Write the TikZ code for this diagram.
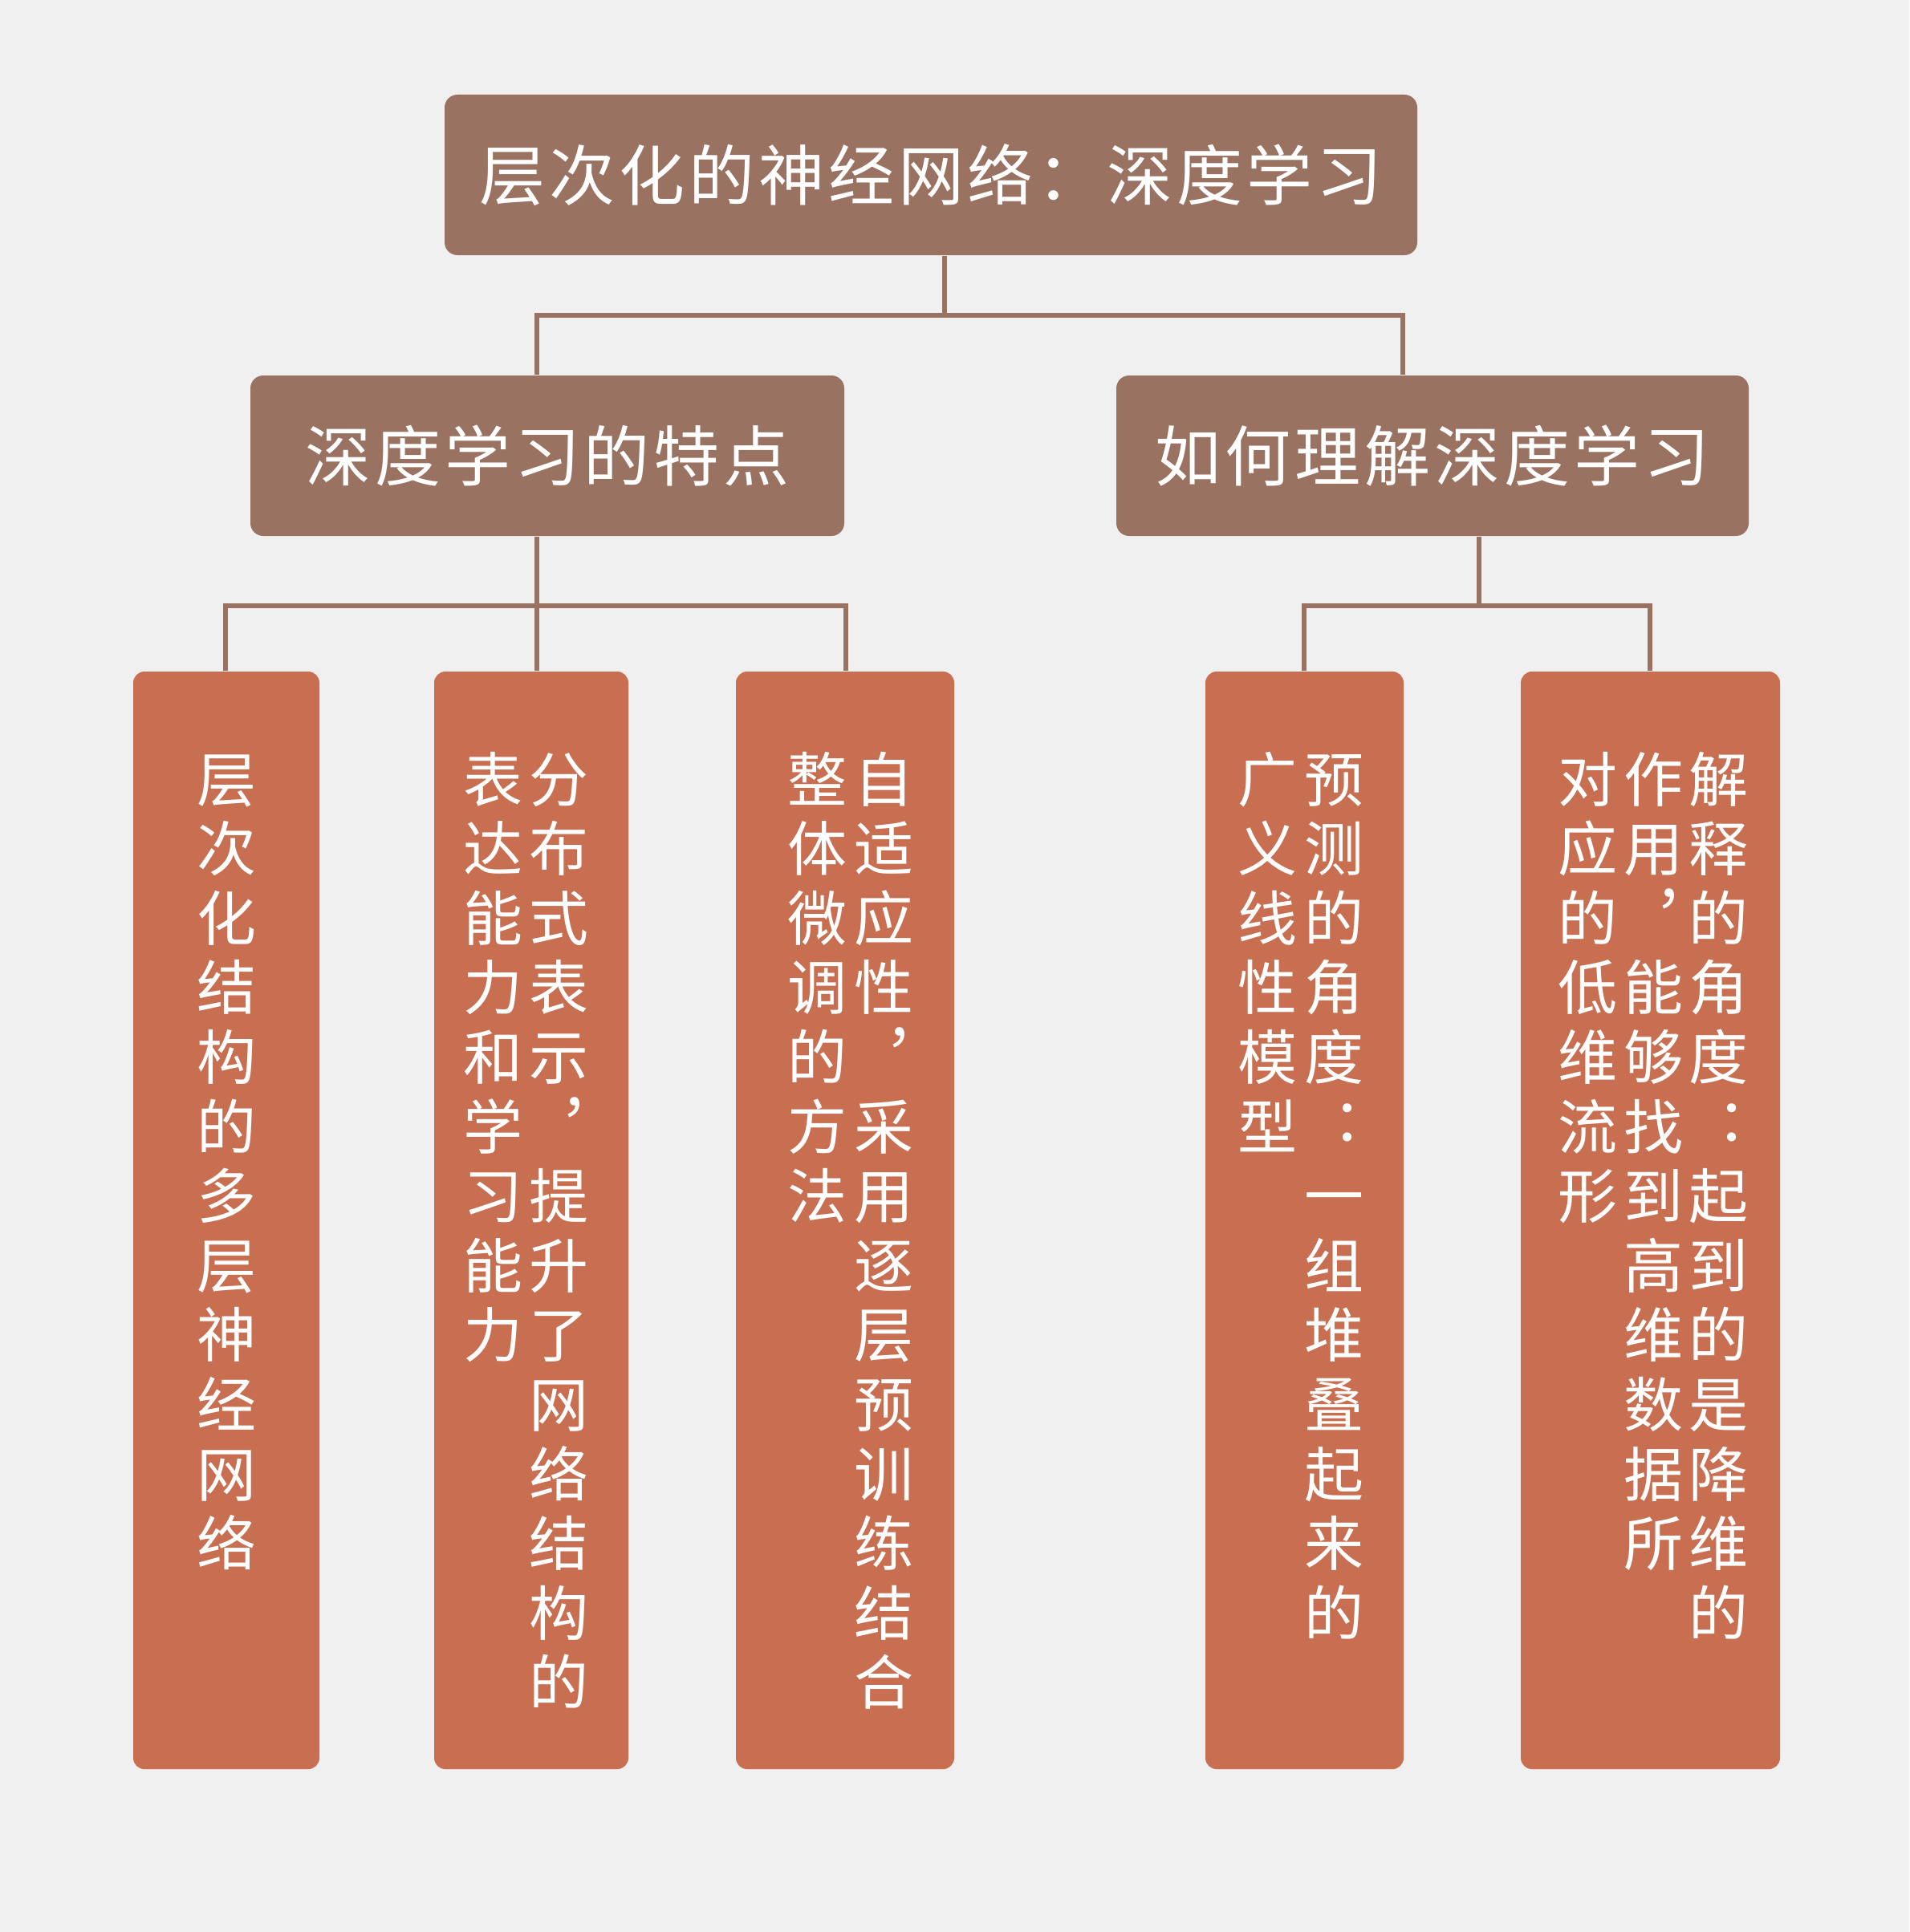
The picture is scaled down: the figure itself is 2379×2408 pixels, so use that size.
\documentclass[tikz,border=0pt]{standalone}
\usepackage{fontspec}
\newfontfamily\cjk{Noto Sans CJK SC}
\newfontfamily\cjkhead[LetterSpace=6]{Noto Sans CJK SC}
\definecolor{bg}{HTML}{F0F0F0}
\definecolor{headbrown}{HTML}{9A7261}
\definecolor{leafred}{HTML}{C96F51}
\tikzset{
  headbox/.style={fill=headbrown, rounded corners=4pt, inner sep=0pt, minimum height=50pt,
    text=white, text height=18.04pt, text depth=2.46pt, font=\cjkhead\fontsize{20.5}{20.5}\selectfont},
  leafbox/.style={fill=leafred, rounded corners=3.5pt, inner sep=0pt, minimum height=342pt},
  vchar/.style={text=white, inner sep=0pt, text height=16.28pt, text depth=2.22pt,
    font=\cjk\fontsize{18.5}{18.5}\selectfont},
  link/.style={draw=headbrown, line width=1.6pt}
}
\newcommand{\vcolumn}[2]{\foreach \c [count=\i from 0] in {#2} \node[vchar] at (#1,{971+\i*86.6}) {\c};}
\begin{document}
\begin{tikzpicture}[x=0.25pt,y=-0.25pt]
	\useasboundingbox[fill=bg] (0,0) rectangle (2379,2408);

	% heads
	\node[headbox, minimum width=303pt] (top) at (1160,218) {层次化的神经网络：深度学习};
	\node[headbox, minimum width=185pt] (feat) at (682,568) {深度学习的特点};
	\node[headbox, minimum width=197pt] (under) at (1785,568) {如何理解深度学习};

	% leaves
	\node[leafbox, minimum width=58pt] (layer) at (282,1521) {};
	\node[leafbox, minimum width=60.5pt] (distr) at (662,1521) {};
	\node[leafbox, minimum width=68pt] (adapt) at (1053,1521) {};
	\node[leafbox, minimum width=61.75pt] (pred) at (1625.5,1521) {};
	\node[leafbox, minimum width=80.75pt] (expl) at (2056.5,1521) {};

	% buses
	\coordinate (busTop) at (1177,393);
	\coordinate (busFeat) at (669,755);
	\coordinate (busUnder) at (1843,755);

	\draw[link] (top.south -| busTop) -- (busTop);
	\draw[link] (feat.north -| busFeat) |- (busTop) -| (1748,0 |- under.north);
	\draw[link] (feat.south -| busFeat) -- (busFeat);
	\draw[link] (layer.north -| 281,0) |- (busFeat) -| (distr.north -| busFeat);
	\draw[link] (busFeat) -| (adapt.north -| 1054,0);
	\draw[link] (under.south -| busUnder) -- (busUnder);
	\draw[link] (pred.north -| 1625,0) |- (busUnder) -| (expl.north -| 2056,0);

	% texts
	\vcolumn{282}{层,次,化,结,构,的,多,层,神,经,网,络}
	\vcolumn{696}{分,布,式,表,示,︐,提,升,了,网,络,结,构,的}
	\vcolumn{614}{表,达,能,力,和,学,习,能,力}
	\vcolumn{1101}{自,适,应,性,︐,采,用,逐,层,预,训,练,结,合}
	\vcolumn{1018}{整,体,微,调,的,方,法}
	\vcolumn{1662}{预,测,的,角,度,︓,一,组,堆,叠,起,来,的}
	\vcolumn{1579}{广,义,线,性,模,型}
	\vcolumn{2141}{解,释,的,角,度,︓,起,到,的,是,降,维,的}
	\vcolumn{2060}{作,用,︐,能,够,找,到,高,维,数,据,所}
	\vcolumn{1978}{对,应,的,低,维,流,形}
\end{tikzpicture}
\end{document}
